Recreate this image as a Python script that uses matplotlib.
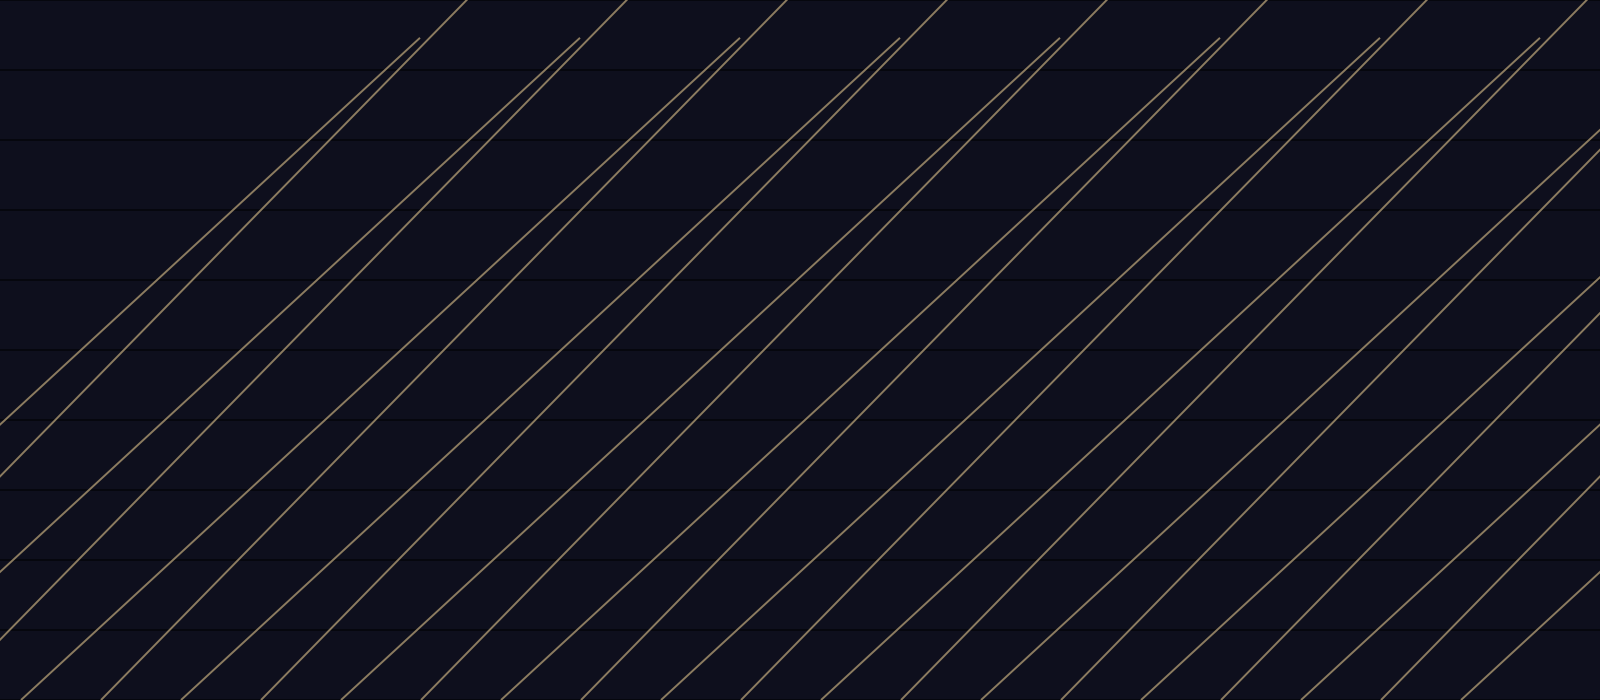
import matplotlib
matplotlib.use("Agg")
import matplotlib.pyplot as plt

# family A: shorter lines, top end stops below the top edge
a_start_x = [-299, -139, 21, 181, 341, 501, 661, 821, 981, 1141, 1301, 1461]
a_start_y = 0.0
a_end_x = [420, 580, 740, 900, 1060, 1220, 1380, 1540, 1700, 1860, 2020, 2180]
a_end_y = 9.46

# family B: steeper lines running off the top edge
b_start_x = [-219, -59, 101, 261, 421, 581, 741, 901, 1061, 1221, 1381]
b_start_y = 0.0
b_end_x = [501, 661, 821, 981, 1141, 1301, 1461, 1621, 1781, 1941, 2101]
b_end_y = 10.5

rows = list(range(0, 11))

bg = '#0e0f1d'
line_col = '#8c7c60'

fig = plt.figure(figsize=(16, 7), dpi=100)
fig.patch.set_facecolor(bg)
ax = fig.add_axes([0, 0, 1, 1])
ax.set_facecolor(bg)

for y in rows:
    ax.axhline(y, color='#05060c', lw=1.2, zorder=1)

for x0, x1 in zip(a_start_x, a_end_x):
    ax.plot([x0, x1], [a_start_y, a_end_y], color=line_col, lw=1.4,
            solid_capstyle='butt', zorder=2)
for x0, x1 in zip(b_start_x, b_end_x):
    ax.plot([x0, x1], [b_start_y, b_end_y], color=line_col, lw=1.4,
            solid_capstyle='butt', zorder=2)

ax.set_xlim(0, 1600)
ax.set_ylim(0, 10)
ax.set_xticks([])
ax.set_yticks([])
for s in ax.spines.values():
    s.set_visible(False)

plt.savefig('out.png', dpi=100, facecolor=bg)
